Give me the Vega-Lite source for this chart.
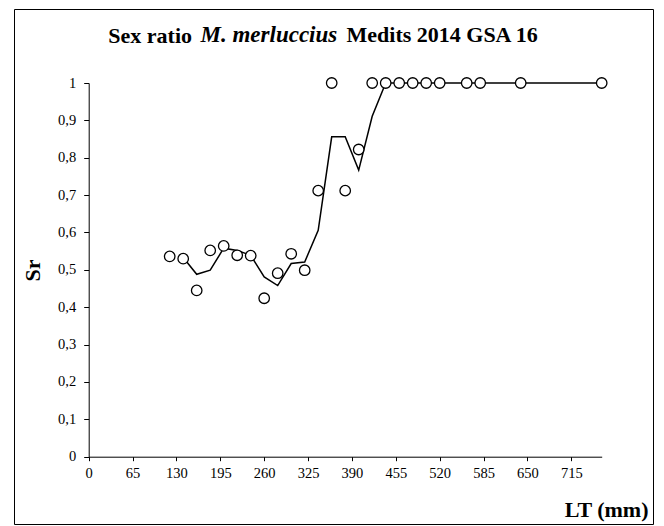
{
  "$schema": "https://vega.github.io/schema/vega-lite/v6.json",
  "autosize": "none",
  "width": 639,
  "height": 515,
  "padding": {"left": 14, "top": 9, "right": 11, "bottom": 2},
  "background": "white",
  "config": {
    "view": {"stroke": "black", "strokeWidth": 1},
    "font": "Liberation Serif",
    "axis": {"grid": false, "labelFont": "Liberation Serif", "titleFont": "Liberation Serif", "labelColor": "black", "titleColor": "black", "domainColor": "black", "tickColor": "black"}
  },
  "title": {
    "text": "Sex ratio",
    "anchor": "start",
    "frame": "group",
    "dx": 94.3,
    "offset": -56,
    "baseline": "alphabetic",
    "font": "Liberation Serif",
    "fontSize": 22,
    "fontWeight": "bold",
    "color": "black"
  },
  "datasets": {
    "points": [
      {"LT": 120, "Sr": 0.536}, {"LT": 140, "Sr": 0.530}, {"LT": 160, "Sr": 0.445},
      {"LT": 180, "Sr": 0.552}, {"LT": 200, "Sr": 0.564}, {"LT": 220, "Sr": 0.539},
      {"LT": 240, "Sr": 0.538}, {"LT": 260, "Sr": 0.424}, {"LT": 280, "Sr": 0.491},
      {"LT": 300, "Sr": 0.543}, {"LT": 320, "Sr": 0.499}, {"LT": 340, "Sr": 0.712},
      {"LT": 360, "Sr": 1.0}, {"LT": 380, "Sr": 0.712}, {"LT": 400, "Sr": 0.822},
      {"LT": 420, "Sr": 1.0}, {"LT": 440, "Sr": 1.0}, {"LT": 460, "Sr": 1.0},
      {"LT": 480, "Sr": 1.0}, {"LT": 500, "Sr": 1.0}, {"LT": 520, "Sr": 1.0},
      {"LT": 560, "Sr": 1.0}, {"LT": 580, "Sr": 1.0}, {"LT": 640, "Sr": 1.0},
      {"LT": 760, "Sr": 1.0}
    ],
    "ma": [
      {"LT": 140, "Sr": 0.533}, {"LT": 160, "Sr": 0.488}, {"LT": 180, "Sr": 0.499},
      {"LT": 200, "Sr": 0.558}, {"LT": 220, "Sr": 0.552}, {"LT": 240, "Sr": 0.539},
      {"LT": 260, "Sr": 0.481}, {"LT": 280, "Sr": 0.458}, {"LT": 300, "Sr": 0.517},
      {"LT": 320, "Sr": 0.521}, {"LT": 340, "Sr": 0.606}, {"LT": 360, "Sr": 0.856},
      {"LT": 380, "Sr": 0.856}, {"LT": 400, "Sr": 0.767}, {"LT": 420, "Sr": 0.911},
      {"LT": 440, "Sr": 1.0}, {"LT": 460, "Sr": 1.0}, {"LT": 480, "Sr": 1.0},
      {"LT": 500, "Sr": 1.0}, {"LT": 520, "Sr": 1.0}, {"LT": 560, "Sr": 1.0},
      {"LT": 580, "Sr": 1.0}, {"LT": 640, "Sr": 1.0}, {"LT": 760, "Sr": 1.0}
    ]
  },
  "resolve": {"axis": {"x": "independent", "y": "independent"}},
  "layer": [
    {
      "data": {"name": "ma"},
      "mark": {"type": "line", "color": "black", "strokeWidth": 1.5},
      "encoding": {
        "x": {
          "field": "LT", "type": "quantitative",
          "scale": {"domain": [0, 760], "range": [74.7, 587.7], "nice": false, "zero": false},
          "axis": {
            "orient": "bottom", "offset": -67.3,
            "values": [0, 65, 130, 195, 260, 325, 390, 455, 520, 585, 650, 715],
            "tickSize": 4, "labelPadding": 6, "labelFont": "Liberation Serif", "labelFontSize": 14.5, "labelFlush": false, "labelColor": "black",
            "title": "LT (mm)", "titleFont": "Liberation Serif", "titleFontSize": 22, "titleFontWeight": "bold",
            "titleX": 634, "titleY": 59.3, "titleAlign": "right", "titleBaseline": "alphabetic"
          }
        },
        "y": {
          "field": "Sr", "type": "quantitative",
          "scale": {"domain": [0, 1], "range": [447.7, 74], "nice": false, "zero": false},
          "axis": {
            "orient": "left", "offset": -74.7,
            "values": [0, 0.1, 0.2, 0.3, 0.4, 0.5, 0.6, 0.7, 0.8, 0.9, 1],
            "labelExpr": "replace(format(datum.value, '.1~f'), '.', ',')",
            "tickSize": 5, "labelPadding": 8, "labelFont": "Liberation Serif", "labelFontSize": 14.5, "labelFlush": false, "labelColor": "black",
            "title": "Sr", "titleFont": "Liberation Serif", "titleFontSize": 22, "titleFontWeight": "bold",
            "titleX": -55.7, "titleY": 261, "titleAlign": "center", "titleBaseline": "middle", "titleAngle": -90
          }
        }
      }
    },
    {
      "data": {"name": "points"},
      "mark": {"type": "point", "shape": "circle", "filled": true, "fill": "white", "stroke": "black", "strokeWidth": 1.3, "size": 110, "opacity": 1},
      "encoding": {
        "x": {
          "field": "LT", "type": "quantitative",
          "scale": {"domain": [0, 760], "range": [74.7, 587.7], "nice": false, "zero": false},
          "axis": {
            "orient": "top", "domain": false, "ticks": false, "labels": false,
            "title": "M. merluccius", "titleFont": "Liberation Serif", "titleFontSize": 23, "titleFontWeight": "bold", "titleFontStyle": "italic",
            "titleX": 186, "titleY": 32, "titleAlign": "left", "titleBaseline": "alphabetic"
          }
        },
        "y": {
          "field": "Sr", "type": "quantitative",
          "scale": {"domain": [0, 1], "range": [447.7, 74], "nice": false, "zero": false},
          "axis": {
            "orient": "right", "domain": false, "ticks": false, "labels": false,
            "title": "Medits 2014 GSA 16", "titleFont": "Liberation Serif", "titleFontSize": 22, "titleFontWeight": "bold",
            "titleAngle": 0, "titleX": -307, "titleY": 32, "titleAlign": "left", "titleBaseline": "alphabetic"
          }
        }
      }
    }
  ]
}
